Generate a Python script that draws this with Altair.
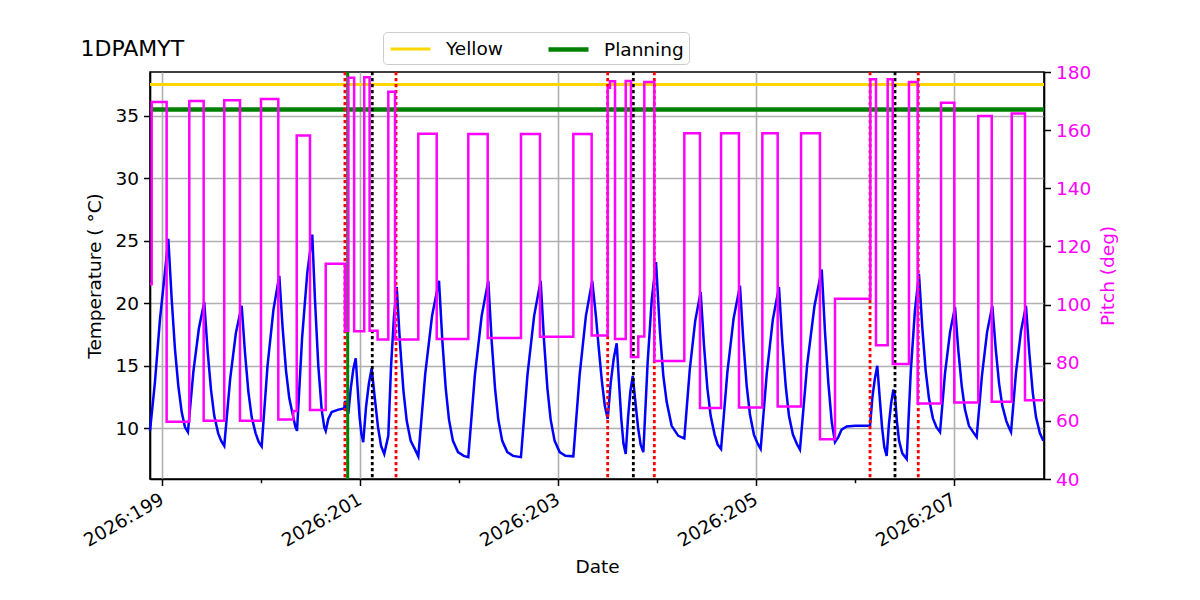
import altair as alt
import pandas as pd

# Temperature trace: day of year 2026 and temperature in deg C
temp_day = [
    198.876, 198.926, 198.977, 199.027, 199.061, 199.095, 199.128, 199.162, 199.196, 199.229,
    199.259, 199.315, 199.370, 199.424, 199.458, 199.492, 199.525, 199.565, 199.595, 199.626,
    199.685, 199.743, 199.802, 199.836, 199.870, 199.903, 199.943, 199.975, 200.004, 200.063,
    200.123, 200.182, 200.216, 200.250, 200.283, 200.323, 200.345, 200.361, 200.412, 200.464,
    200.515, 200.542, 200.576, 200.610, 200.636, 200.651, 200.677, 200.711, 200.778, 200.838,
    200.847, 200.879, 200.904, 200.929, 200.954, 200.973, 200.992, 201.011, 201.030, 201.058,
    201.087, 201.115, 201.147, 201.179, 201.210, 201.242, 201.283, 201.311, 201.340, 201.368,
    201.402, 201.436, 201.469, 201.509, 201.560, 201.586, 201.656, 201.725, 201.795, 201.829,
    201.863, 201.896, 201.936, 201.987, 202.045, 202.091, 202.158, 202.226, 202.293, 202.327,
    202.361, 202.394, 202.434, 202.485, 202.543, 202.623, 202.689, 202.756, 202.822, 202.856,
    202.890, 202.923, 202.963, 203.014, 203.072, 203.152, 203.216, 203.279, 203.343, 203.380,
    203.410, 203.440, 203.470, 203.499, 203.529, 203.560, 203.590, 203.613, 203.636, 203.658,
    203.681, 203.705, 203.728, 203.752, 203.779, 203.806, 203.832, 203.859, 203.902, 203.944,
    203.987, 204.027, 204.061, 204.095, 204.145, 204.212, 204.273, 204.328, 204.383, 204.438,
    204.472, 204.506, 204.539, 204.579, 204.610, 204.644, 204.708, 204.771, 204.835, 204.869,
    204.903, 204.936, 204.976, 205.015, 205.044, 205.106, 205.167, 205.229, 205.263, 205.297,
    205.330, 205.370, 205.410, 205.441, 205.514, 205.588, 205.661, 205.694, 205.727, 205.762,
    205.795, 205.828, 205.862, 205.912, 206.000, 206.149, 206.173, 206.198, 206.222, 206.246,
    206.270, 206.293, 206.317, 206.339, 206.362, 206.384, 206.401, 206.420, 206.442, 206.475,
    206.519, 206.560, 206.602, 206.643, 206.677, 206.711, 206.744, 206.784, 206.820, 206.856,
    206.906, 206.957, 207.007, 207.041, 207.075, 207.108, 207.148, 207.199, 207.226, 207.279,
    207.331, 207.384, 207.418, 207.452, 207.485, 207.525, 207.555, 207.573, 207.623, 207.674,
    207.724, 207.758, 207.792, 207.825, 207.865, 207.899,
]
temp_val = [
    9.8, 13.7, 18.75, 22.5, 25.15, 20.35, 16.35, 13.4, 11.3, 10.1,
    9.7, 14.6, 18.0, 20.1, 16.2, 13.1, 11.0, 9.6, 9.0, 8.6,
    13.9, 17.6, 19.8, 16.0, 12.9, 10.9, 9.6, 8.9, 8.56, 15.0,
    19.5, 22.2, 18.0, 14.6, 12.4, 10.9, 10.1, 9.8, 17.2, 22.4,
    25.5, 20.35, 15.0, 11.5, 10.1, 9.8, 10.75, 11.3, 11.5, 11.6,
    12.2, 11.15, 13.2, 14.7, 15.6, 13.25, 11.0, 9.57, 8.9, 11.7,
    13.6, 14.8, 12.4, 10.1, 8.6, 7.95, 9.4, 15.0, 18.9, 21.3,
    16.7, 13.0, 10.6, 9.0, 8.2, 7.75, 14.35, 19.0, 21.8, 17.0,
    13.2, 10.7, 9.0, 8.1, 7.8, 7.7, 14.3, 19.0, 21.8, 17.0,
    13.2, 10.7, 9.0, 8.1, 7.8, 7.7, 14.3, 19.0, 21.8, 17.0,
    13.2, 10.7, 9.0, 8.1, 7.8, 7.76, 14.3, 19.0, 21.8, 19.0,
    16.3, 13.8, 11.8, 10.75, 13.6, 15.6, 16.8, 13.7, 10.8, 8.8,
    7.95, 10.9, 12.95, 14.2, 12.1, 10.05, 8.7, 8.1, 15.2, 20.3,
    23.3, 17.7, 14.2, 12.1, 10.2, 9.4, 9.2, 14.7, 18.6, 20.9,
    16.6, 13.2, 11.0, 9.5, 8.7, 8.35, 14.5, 18.8, 21.4, 17.0,
    13.4, 11.1, 9.5, 8.75, 8.35, 14.4, 18.7, 21.3, 16.9, 13.4,
    11.0, 9.5, 8.75, 8.3, 15.1, 19.8, 22.7, 17.7, 13.7, 10.5,
    8.9, 9.3, 9.9, 10.15, 10.2, 10.2, 12.5, 14.0, 15.0, 12.5,
    10.1, 8.5, 7.8, 10.3, 12.0, 13.1, 12.6, 10.6, 9.0, 8.0,
    7.55, 14.5, 19.4, 22.35, 18.05, 14.6, 12.4, 10.8, 10.1, 9.7,
    14.4, 17.7, 19.7, 16.2, 13.4, 11.5, 10.2, 9.6, 9.3, 14.2,
    17.7, 19.8, 16.4, 13.6, 11.8, 10.6, 10.0, 9.7, 14.45, 17.8,
    19.8, 16.0, 12.9, 10.9, 9.6, 9.0,
]

# Pitch attitude: each value holds from its day until the next one
pitch_day = [
    198.876, 198.893, 199.044, 199.273, 199.418, 199.626, 199.785, 199.997, 200.172, 200.323,
    200.358, 200.492, 200.651, 200.845, 200.879, 200.938, 201.040, 201.094, 201.175, 201.283,
    201.351, 201.586, 201.772, 202.091, 202.287, 202.623, 202.815, 203.152, 203.337, 203.499,
    203.522, 203.573, 203.681, 203.734, 203.808, 203.869, 203.970, 204.273, 204.431, 204.644,
    204.825, 205.061, 205.216, 205.452, 205.643, 205.795, 206.152, 206.209, 206.327, 206.378,
    206.542, 206.630, 206.866, 207.000, 207.242, 207.378, 207.580, 207.714, 207.906,
]
pitch_val = [
    107.0, 169.7, 59.7, 170.0, 60.0, 170.3, 60.0, 170.7, 60.5, 63.4,
    158.2, 63.7, 114.0, 91.0, 178.0, 90.8, 178.2, 91.0, 88.0, 173.2,
    88.0, 158.8, 88.2, 158.7, 88.5, 158.7, 88.9, 158.7, 89.4, 174.6,
    176.8, 88.2, 176.9, 82.0, 89.0, 176.6, 80.6, 158.9, 64.4, 158.9,
    64.6, 158.9, 64.9, 158.9, 53.7, 102.0, 177.5, 86.0, 177.5, 79.6,
    176.6, 66.0, 169.4, 66.3, 164.9, 66.6, 165.7, 67.1, 67.1,
]

# Temperature limits
limit_names = ["Yellow", "Planning"]
limit_temps = [37.5, 35.5]
limit_colors = ["#ffd700", "#008000"]
limit_widths = [3, 4.5]

# Event times
red_events = [200.845, 201.361, 203.499, 203.970, 206.149, 206.636]
black_events = [201.121, 203.758, 206.401]
green_events = [200.873]

day_ticks = [199, 200, 201, 202, 203, 204, 205, 206, 207]
temp_ticks = [10, 15, 20, 25, 30, 35]
pitch_ticks = [40, 60, 80, 100, 120, 140, 160, 180]

FONT = "DejaVu Sans"
FS = 18.5

temp_df = pd.DataFrame({"day": temp_day, "temp": temp_val})
pitch_df = pd.DataFrame({"day": pitch_day, "pitch": pitch_val})
limit_df = pd.DataFrame({"limit": limit_names, "temp": limit_temps})
red_df = pd.DataFrame({"day": red_events})
black_df = pd.DataFrame({"day": black_events})
green_df = pd.DataFrame({"day": green_events})

odd = "datum.value % 2 == 1"
x_enc = alt.X(
    "day:Q",
    title="Date",
    scale=alt.Scale(domain=[198.876, 207.906], nice=False, zero=False),
    axis=alt.Axis(
        values=day_ticks,
        labelExpr=f"{odd} ? '2026:' + datum.value : ''",
        labelAngle=330,
        labelAlign="right",
        labelBaseline="top",
        labelOffset=-5,
        labelPadding=4,
        tickSize={"condition": {"test": odd, "value": 6.5}, "value": 3.7},
        gridOpacity={"condition": {"test": odd, "value": 1}, "value": 0},
        grid=True,
        titlePadding=8,
    ),
)

y_temp = alt.Y(
    "temp:Q",
    title="Temperature ( °C)",
    scale=alt.Scale(domain=[5.95, 38.5], nice=False, zero=False),
    axis=alt.Axis(values=temp_ticks, grid=True, titlePadding=10),
)

temp_line = alt.Chart(temp_df).mark_line(
    color="#0000ff", strokeWidth=2.5, interpolate="linear"
).encode(x=x_enc, y=y_temp)

limit_rules = alt.Chart(limit_df).mark_rule().encode(
    y=y_temp,
    color=alt.Color(
        "limit:N",
        scale=alt.Scale(domain=limit_names, range=limit_colors),
        legend=alt.Legend(
            title=None,
            orient="none",
            legendX=233,
            legendY=-40,
            direction="horizontal",
            columns=2,
            symbolType="M-1,0H3",
            symbolSize=400,
            symbolStrokeWidth=3.5,
            labelOffset=33,
            columnPadding=36,
            padding=5,
            labelFontSize=FS,
            labelFont=FONT,
            labelColor="black",
            strokeColor="#cccccc",
            fillColor="white",
            cornerRadius=4,
        ),
    ),
    strokeWidth=alt.StrokeWidth(
        "limit:N",
        scale=alt.Scale(domain=limit_names, range=limit_widths),
        legend=None,
    ),
)

dash = [3.2, 2.8]
red_rules = alt.Chart(red_df).mark_rule(
    color="#ff0000", strokeWidth=2.8, strokeDash=dash
).encode(x=x_enc)
black_rules = alt.Chart(black_df).mark_rule(
    color="black", strokeWidth=2.8, strokeDash=dash
).encode(x=x_enc)
green_rules = alt.Chart(green_df).mark_rule(
    color="#008000", strokeWidth=3
).encode(x=x_enc)

left = alt.layer(temp_line, limit_rules, red_rules, black_rules, green_rules)

pitch_line = alt.Chart(pitch_df).mark_line(
    color="#ff00ff", strokeWidth=2.5, interpolate="step-after"
).encode(
    x=x_enc,
    y=alt.Y(
        "pitch:Q",
        title="Pitch (deg)",
        scale=alt.Scale(domain=[40, 180], nice=False, zero=False),
        axis=alt.Axis(
            orient="right",
            values=pitch_ticks,
            grid=False,
            labelColor="#ff00ff",
            titleColor="#ff00ff",
            titleAngle=270,
            titleBaseline="top",
            titlePadding=8,
        ),
    ),
)

chart = (
    alt.layer(left, pitch_line)
    .resolve_scale(y="independent")
    .properties(
        width=894,
        height=407,
        padding={"left": 150, "top": 72, "right": 156, "bottom": 121},
        autosize=alt.AutoSizeParams(type="none"),
        title=alt.TitleParams(
            "1DPAMYT",
            anchor="start",
            fontSize=22,
            fontWeight="normal",
            font=FONT,
            color="black",
            offset=8,
            dy=37,
        ),
    )
    .configure(font=FONT, background="white")
    .configure_view(stroke="black", strokeWidth=1.6)
    .configure_axis(
        labelFont=FONT,
        titleFont=FONT,
        labelFontSize=FS,
        titleFontSize=FS,
        titleFontWeight="normal",
        labelColor="black",
        titleColor="black",
        domainColor="black",
        domainWidth=1.6,
        tickColor="black",
        tickWidth=1.5,
        tickSize=6.5,
        labelPadding=5,
        gridColor="#b0b0b0",
        gridWidth=1.6,
    )
)

chart.save("out.html", embed_options={"renderer": "svg", "actions": False})
